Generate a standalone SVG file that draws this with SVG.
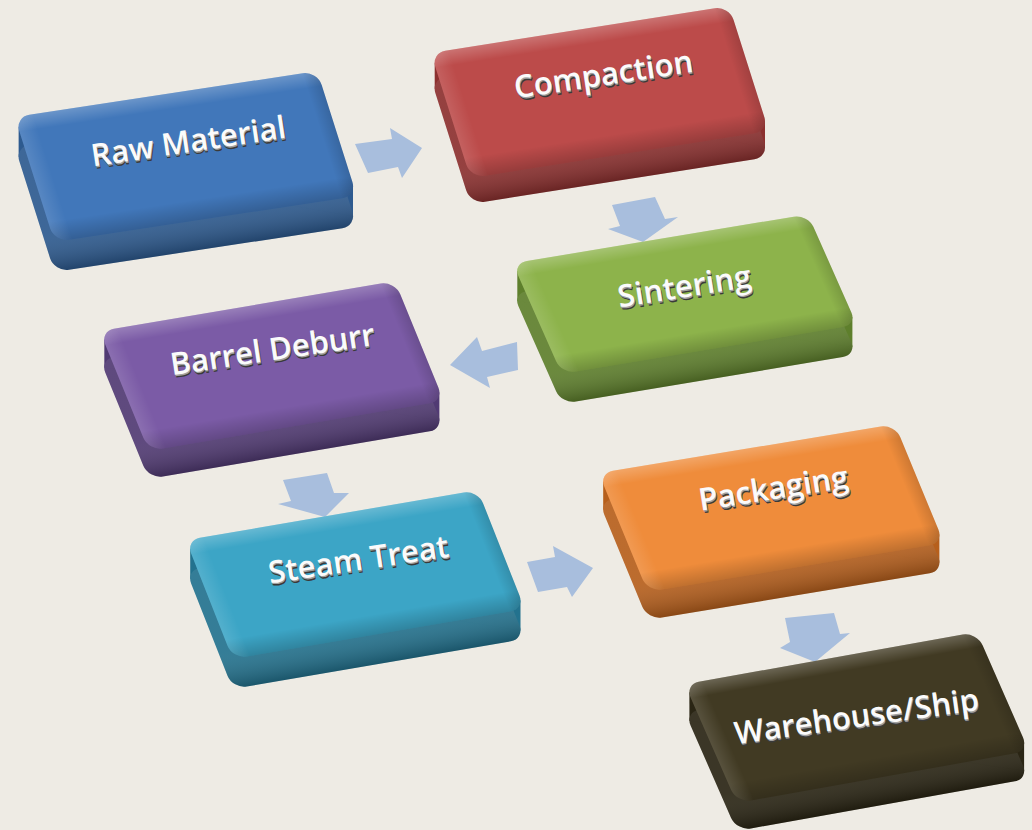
<svg xmlns="http://www.w3.org/2000/svg" xmlns:xlink="http://www.w3.org/1999/xlink" width="1032" height="830" viewBox="0 0 1032 830">
<defs>
<rect id="k" x="-6" y="-3" width="292" height="125" rx="14" ry="14"/>
<linearGradient id="bev" x1="0" y1="0" x2="0" y2="1">
<stop offset="0" stop-color="#fff" stop-opacity="0.22"/>
<stop offset="0.12" stop-color="#fff" stop-opacity="0"/>
<stop offset="0.84" stop-color="#000" stop-opacity="0"/>
<stop offset="1" stop-color="#000" stop-opacity="0.2"/>
</linearGradient>
<linearGradient id="bevh" x1="0" y1="0" x2="1" y2="0">
<stop offset="0" stop-color="#fff" stop-opacity="0.12"/>
<stop offset="0.06" stop-color="#fff" stop-opacity="0"/>
<stop offset="0.95" stop-color="#000" stop-opacity="0"/>
<stop offset="1" stop-color="#000" stop-opacity="0.14"/>
</linearGradient>
<linearGradient id="front" x1="0" y1="0" x2="0" y2="1">
<stop offset="0.7" stop-color="#fff" stop-opacity="0.08"/>
<stop offset="1" stop-color="#000" stop-opacity="0.25"/>
</linearGradient>
<style>
.lbl{font-family:"Open Sans","Noto Sans","DejaVu Sans",sans-serif;font-weight:600;font-size:31px;text-anchor:middle}
.s1{fill:#3a3a3a}
.s2{fill:#a0a0a0}
.t{fill:#fbfbfb}
.arr{fill:#A8BEDD}
</style>
</defs>
<rect width="1032" height="830" fill="#EEEBE4"/>

<g id="connectors">
<polygon class="arr" points="355,144 392,139 390,128 422,148 402,178 398,167 368,173"/>
<polygon class="arr" points="612,205 655,197 665,219 678,217 643,242 608,229 620,226"/>
<polygon class="arr" points="450,365 477,337 482,351 517,342 518,370 487,377 490,388"/>
<polygon class="arr" points="283,480 327,473 334,493 349,493 325,517 278,504 291,501"/>
<polygon class="arr" points="527,562 555,557 553,546 593,568 572,597 567,587 538,592"/>
<polygon class="arr" points="785,618 834,613 840,634 850,633 815,662 780,648 790,642"/>
</g>

<g id="raw-material">
<g fill="#2D5A8F">
<use href="#k" transform="translate(0,30) matrix(1.0357,-0.1571,0.3167,1,22,119)"/>
<polygon points="18.6,126.7 353,186.3 353,216.3 18.6,156.7"/>
</g>
<use href="#k" fill="url(#front)" transform="translate(0,30) matrix(1.0357,-0.1571,0.3167,1,22,119)"/>
<use href="#k" fill="#4177BA" transform="matrix(1.0357,-0.1571,0.3167,1,22,119)"/>
<use href="#k" fill="url(#bev)" transform="matrix(1.0357,-0.1571,0.3167,1,22,119)"/>
<use href="#k" fill="url(#bevh)" transform="matrix(1.0357,-0.1571,0.3167,1,22,119)"/>
<g transform="translate(190,152) rotate(-8.5)">
<text class="lbl s1" x="1" y="3">Raw Material</text>
<text class="lbl s2" x="0.5" y="1.5">Raw Material</text>
<text class="lbl t" x="0" y="0">Raw Material</text>
</g>
</g>

<g id="compaction">
<g fill="#8C302F">
<use href="#k" transform="translate(0,26) matrix(1.0214,-0.1607,0.3167,1,438,55)"/>
<polygon points="434.7,62.8 765,121.3 765,147.3 434.7,88.8"/>
</g>
<use href="#k" fill="url(#front)" transform="translate(0,26) matrix(1.0214,-0.1607,0.3167,1,438,55)"/>
<use href="#k" fill="#BC4B4A" transform="matrix(1.0214,-0.1607,0.3167,1,438,55)"/>
<use href="#k" fill="url(#bev)" transform="matrix(1.0214,-0.1607,0.3167,1,438,55)"/>
<use href="#k" fill="url(#bevh)" transform="matrix(1.0214,-0.1607,0.3167,1,438,55)"/>
<g transform="translate(605,85) rotate(-8.5)">
<text class="lbl s1" x="1" y="3">Compaction</text>
<text class="lbl s2" x="0.5" y="1.5">Compaction</text>
<text class="lbl t" x="0" y="0">Compaction</text>
</g>
</g>

<g id="sintering">
<g fill="#5E7F2C">
<use href="#k" transform="translate(0,30) matrix(1.0107,-0.1679,0.3917,0.8833,520,265)"/>
<polygon points="517.3,271.1 852.4,317.1 852.4,347.1 517.3,301.1"/>
</g>
<use href="#k" fill="url(#front)" transform="translate(0,30) matrix(1.0107,-0.1679,0.3917,0.8833,520,265)"/>
<use href="#k" fill="#8DB34B" transform="matrix(1.0107,-0.1679,0.3917,0.8833,520,265)"/>
<use href="#k" fill="url(#bev)" transform="matrix(1.0107,-0.1679,0.3917,0.8833,520,265)"/>
<use href="#k" fill="url(#bevh)" transform="matrix(1.0107,-0.1679,0.3917,0.8833,520,265)"/>
<g transform="translate(686,297) rotate(-9)">
<text class="lbl s1" x="1" y="3">Sintering</text>
<text class="lbl s2" x="0.5" y="1.5">Sintering</text>
<text class="lbl t" x="0" y="0">Sintering</text>
</g>
</g>

<g id="barrel-deburr">
<g fill="#513A73">
<use href="#k" transform="translate(0,28) matrix(1.0107,-0.1714,0.3917,0.9583,107,333)"/>
<polygon points="104.3,339.6 439.4,392.5 439.4,420.5 104.3,367.6"/>
</g>
<use href="#k" fill="url(#front)" transform="translate(0,28) matrix(1.0107,-0.1714,0.3917,0.9583,107,333)"/>
<use href="#k" fill="#7B5BA6" transform="matrix(1.0107,-0.1714,0.3917,0.9583,107,333)"/>
<use href="#k" fill="url(#bev)" transform="matrix(1.0107,-0.1714,0.3917,0.9583,107,333)"/>
<use href="#k" fill="url(#bevh)" transform="matrix(1.0107,-0.1714,0.3917,0.9583,107,333)"/>
<g transform="translate(274,360) rotate(-8.5)">
<text class="lbl s1" x="1" y="3">Barrel Deburr</text>
<text class="lbl s2" x="0.5" y="1.5">Barrel Deburr</text>
<text class="lbl t" x="0" y="0">Barrel Deburr</text>
</g>
</g>

<g id="steam-treat">
<g fill="#23728E">
<use href="#k" transform="translate(0,30) matrix(1,-0.1714,0.375,0.95,193,542)"/>
<polygon points="190.2,548.7 520.5,600.4 520.5,630.4 190.2,578.7"/>
</g>
<use href="#k" fill="url(#front)" transform="translate(0,30) matrix(1,-0.1714,0.375,0.95,193,542)"/>
<use href="#k" fill="#3CA5C6" transform="matrix(1,-0.1714,0.375,0.95,193,542)"/>
<use href="#k" fill="url(#bev)" transform="matrix(1,-0.1714,0.375,0.95,193,542)"/>
<use href="#k" fill="url(#bevh)" transform="matrix(1,-0.1714,0.375,0.95,193,542)"/>
<g transform="translate(360,570) rotate(-8.5)">
<text class="lbl s1" x="1" y="3">Steam Treat</text>
<text class="lbl s2" x="0.5" y="1.5">Steam Treat</text>
<text class="lbl t" x="0" y="0">Steam Treat</text>
</g>
</g>

<g id="packaging">
<g fill="#B65F1C">
<use href="#k" transform="translate(0,28) matrix(1.0143,-0.1679,0.3917,0.95,606,475)"/>
<polygon points="603.2,481.6 939.4,534.5 939.4,562.5 603.2,509.6"/>
</g>
<use href="#k" fill="url(#front)" transform="translate(0,28) matrix(1.0143,-0.1679,0.3917,0.95,606,475)"/>
<use href="#k" fill="#EF8C3B" transform="matrix(1.0143,-0.1679,0.3917,0.95,606,475)"/>
<use href="#k" fill="url(#bev)" transform="matrix(1.0143,-0.1679,0.3917,0.95,606,475)"/>
<use href="#k" fill="url(#bevh)" transform="matrix(1.0143,-0.1679,0.3917,0.95,606,475)"/>
<g transform="translate(775,499) rotate(-9)">
<text class="lbl s1" x="1" y="3">Packaging</text>
<text class="lbl s2" x="0.5" y="1.5">Packaging</text>
<text class="lbl t" x="0" y="0">Packaging</text>
</g>
</g>

<g id="warehouse-ship">
<g fill="#2A2514">
<use href="#k" transform="translate(0,28) matrix(1,-0.1786,0.4167,0.95,692,686)"/>
<polygon points="689.4,692.2 1024.1,742.8 1024.1,770.8 689.4,720.8"/>
</g>
<use href="#k" fill="url(#front)" transform="translate(0,28) matrix(1,-0.1786,0.4167,0.95,692,686)"/>
<use href="#k" fill="#413A23" transform="matrix(1,-0.1786,0.4167,0.95,692,686)"/>
<use href="#k" fill="url(#bev)" transform="matrix(1,-0.1786,0.4167,0.95,692,686)"/>
<use href="#k" fill="url(#bevh)" transform="matrix(1,-0.1786,0.4167,0.95,692,686)"/>
<g transform="translate(858,727) rotate(-8)">
<text class="lbl s1" x="1" y="3">Warehouse/Ship</text>
<text class="lbl s2" x="0.5" y="1.5">Warehouse/Ship</text>
<text class="lbl t" x="0" y="0">Warehouse/Ship</text>
</g>
</g>
</svg>
